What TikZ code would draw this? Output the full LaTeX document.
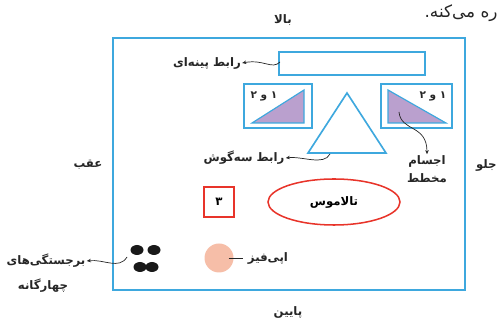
\documentclass[tikz,border=0pt]{standalone}
\usepackage{fontspec}
\newfontfamily\farsi[Script=Arabic]{DejaVu Sans}
\TeXXeTstate=1
\usetikzlibrary{arrows.meta,shapes.geometric}
\definecolor{skyline}{RGB}{62,168,222}
\definecolor{redline}{RGB}{232,52,42}
\definecolor{lilac}{RGB}{186,160,206}
\definecolor{peach}{RGB}{246,190,168}
\newcommand{\fa}[1]{{\farsi\beginR #1\endR}}

\begin{document}
\begin{tikzpicture}[x=0.03cm, y=-0.03cm,
    lbl/.style={text=black!85, inner sep=1pt, font=\normalsize\bfseries},
    bluebox/.style={draw=skyline, line width=1.4pt},
    redbox/.style={draw=redline, line width=1.3pt},
    lead/.style={draw=black!85, line width=0.6pt, -{Stealth[length=3.5pt,width=3pt]}}]
    \useasboundingbox (0,0) rectangle (499,320);
    \node[lbl, anchor=east, font=\Large\mdseries] (tail) at (499,13) {\fa{ره می‌کنه.}};
    % frame and sides
    \draw[bluebox] (113,38) rectangle (465,290);
    \node[lbl] (up) at (283,20) {\fa{بالا}};
    \node[lbl] (down) at (288,312) {\fa{پایین}};
    \node[lbl] (back) at (88,165) {\fa{عقب}};
    \node[lbl, anchor=east] (front) at (498,165) {\fa{جلو}};
    % ribbon connector
    \draw[bluebox] (279,52) rectangle (425,75);
    \coordinate (ribL) at (280,62);
    \node[lbl] (ribbon) at (207,63) {\fa{رابط پینه‌ای}};
    \draw[lead] (ribL) .. controls (272,70) and (264,59) .. (ribbon.east);
    % striate bodies
    \draw[bluebox] (244,84) rectangle (312,128);
    \draw[bluebox, fill=lilac, line width=1pt] (252,123) -- (304,90) -- (304,123) -- cycle;
    \node[lbl, font=\small\bfseries] (pairL) at (264,96) {\fa{۱ و ۲}};
    \draw[bluebox] (381,84) rectangle (452,128);
    \draw[bluebox, fill=lilac, line width=1pt] (388,90) -- (388,123) -- (446,123) -- cycle;
    \node[lbl, font=\small\bfseries] (pairR) at (433,96) {\fa{۱ و ۲}};
    \coordinate (stri) at (399,112);
    \node[lbl, align=center] (striate) at (427,169) {\fa{اجسام}\\[3pt]\fa{مخطط}};
    \draw[lead] (stri) .. controls (401,132) and (427,124) .. (striate.north);
    % fornix triangle
    \draw[bluebox, fill=white] (347,93) -- (386,153) -- (308,153) -- cycle;
    \coordinate (triB) at (330,154);
    \node[lbl] (fornix) at (244,158) {\fa{رابط سه‌گوش}};
    \draw[lead] (triB) .. controls (324,166) and (302,156) .. (fornix.east);
    % third ventricle and thalamus
    \node[redbox, minimum size=0.9cm, inner sep=0pt, font=\normalsize\bfseries] (third) at (219,202) {\fa{۳}};
    \node[redbox, ellipse, minimum width=3.96cm, minimum height=1.38cm, font=\normalsize\bfseries] (thal) at (334,202) {\fa{تالاموس}};
    % quadrigeminal bodies
    \foreach \px/\py in {137/250,154/250,140/267,152/267}
        \fill[black!90] (\px,\py) ellipse [x radius=6.5, y radius=5];
    \coordinate (bumps) at (127,257);
    \node[lbl] (quad) at (46,261) {\fa{برجستگی‌های}};
    \node[lbl] (quad2) at (43,286) {\fa{چهارگانه}};
    \draw[lead] (bumps) .. controls (119,270) and (104,259) .. (quad.east);
    % pineal
    \node[circle, fill=peach, minimum size=0.87cm, inner sep=0pt] (pineal) at (219,258) {};
    \node[lbl] (epi) at (268,258) {\fa{اپی‌فیز}};
    \draw[black!85, line width=0.7pt] ([xshift=-0.15cm]pineal.east) -- ([xshift=-0.1cm]epi.west);
\end{tikzpicture}
\end{document}
